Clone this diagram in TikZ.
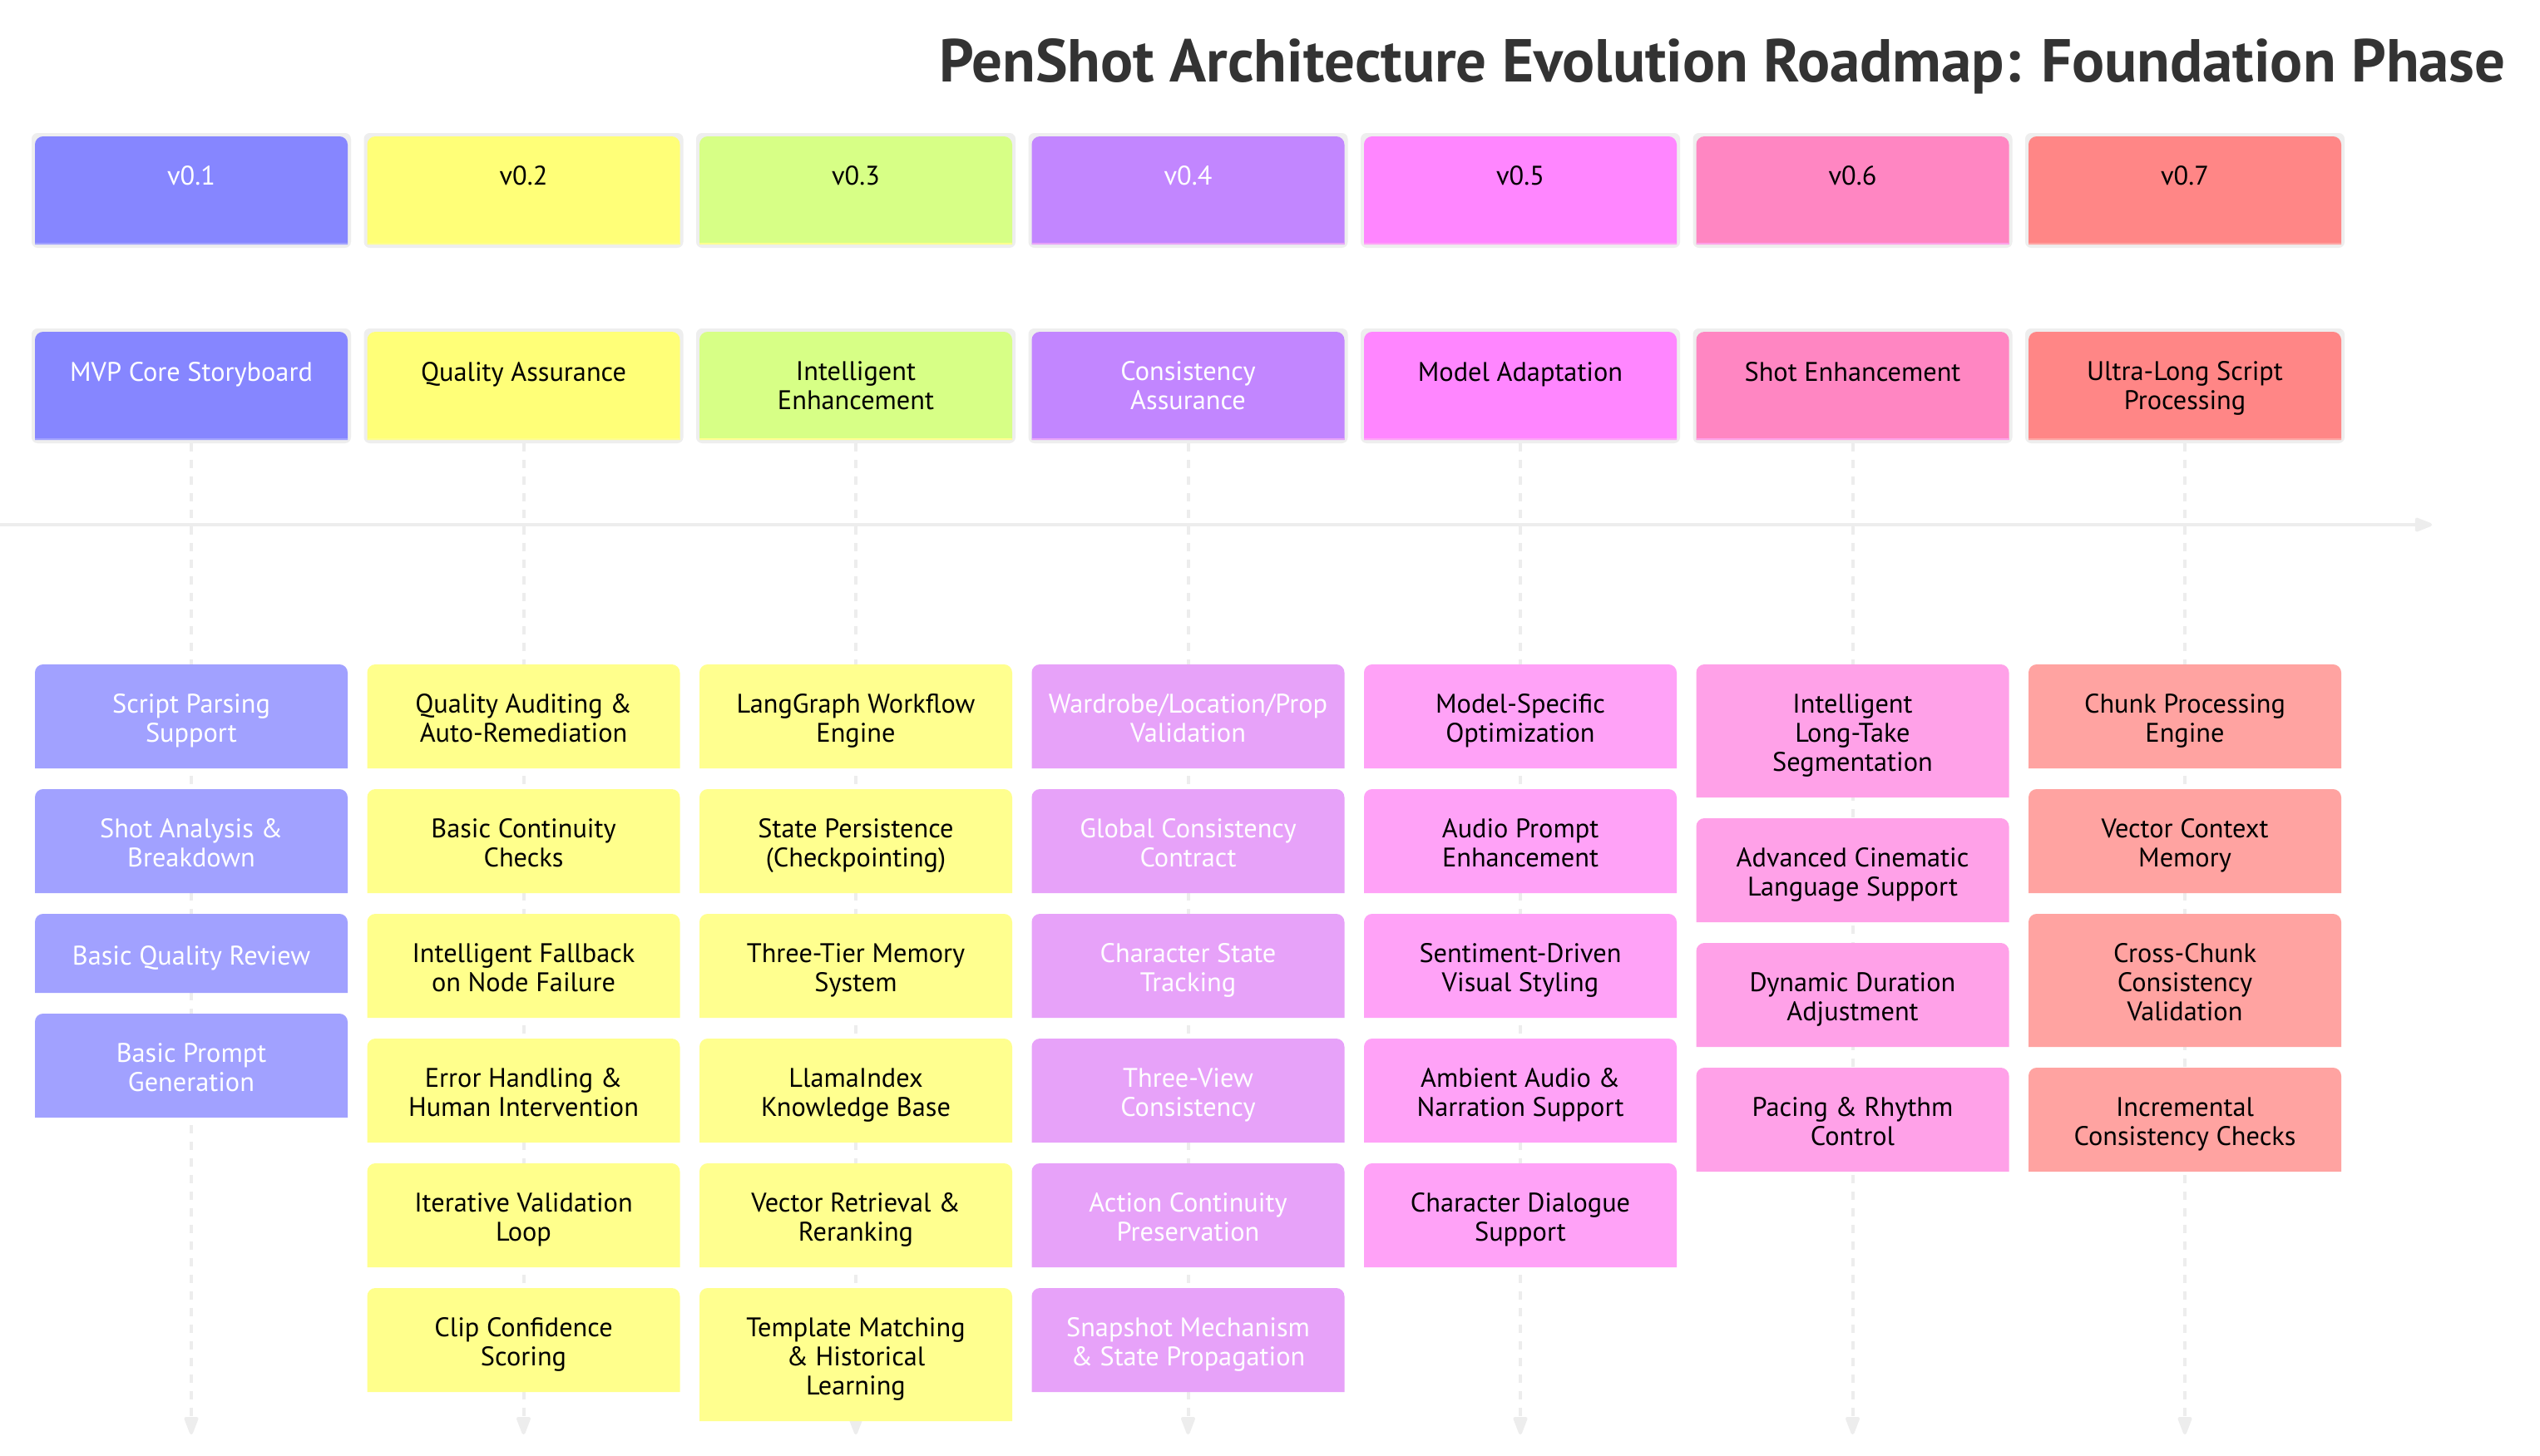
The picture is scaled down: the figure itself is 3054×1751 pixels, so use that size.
\documentclass[tikz,border=0pt]{standalone}
\usepackage{fontspec}
\setmainfont{PT Sans}
\usepackage{graphicx}
\usetikzlibrary{arrows.meta}
\definecolor{linegray}{HTML}{EDEDED}
\definecolor{halogray}{HTML}{EEEEEE}
\definecolor{titlec}{HTML}{333333}
\definecolor{cah}{HTML}{8686FF}\definecolor{cae}{HTML}{A1A1FF}
\definecolor{cbh}{HTML}{FFFF78}\definecolor{cbe}{HTML}{FFFF8C}
\definecolor{cch}{HTML}{D7FF86}\definecolor{cce}{HTML}{FFFF8F}
\definecolor{cdh}{HTML}{C286FF}\definecolor{cde}{HTML}{E7A2F9}
\definecolor{ceh}{HTML}{FF86FF}\definecolor{cee}{HTML}{FFA2F7}
\definecolor{cfh}{HTML}{FF86C2}\definecolor{cfe}{HTML}{FFA1E8}
\definecolor{cgh}{HTML}{FF8686}\definecolor{cge}{HTML}{FFA3A1}
\tikzset{
  boxtext/.style={align=center,inner sep=0pt,font=\fontsize{23}{24.9}\selectfont,
     execute at begin node=\strut, execute at end node=\strut},
  halo/.style={fill=halogray,rounded corners=5pt},
  vline/.style={draw=linegray,line width=1mm,dash pattern=on 2.5mm off 2.5mm,
     -{Triangle[length=6.25mm,width=4.4mm,round]}},
  tline/.style={draw=linegray,line width=1mm,-{Triangle[length=6mm,width=4.4mm,round]}}
}
\newcommand{\hdrbox}[8]{% name, x, y, fill, textcolor, text, text-centre offset, bottom line colour
  \fill[halo] (#2-4,#3-4) rectangle (#2+380,#3+134);
  \fill[#4] (#2,#3+130) [rounded corners=7pt] -- (#2,#3) -- (#2+376,#3) [sharp corners] -- (#2+376,#3+130) -- cycle;
  \fill[#8] (#2,#3+128) rectangle (#2+376,#3+130);
  \node[boxtext,text=#5] (#1) at (#2+188,#3+#7+5) {#6};
}
\newcommand{\evtbox}[7]{% name, x, y, h, fill, textcolor, text
  \fill[#5] (#2,#3+#4) [rounded corners=7pt] -- (#2,#3) -- (#2+376,#3) [sharp corners] -- (#2+376,#3+#4) -- cycle;
  \node[boxtext,text=#6] (#1) at (#2+188,#3+#4/2+7) {#7};
}
\begin{document}
\begin{tikzpicture}[x=0.25mm,y=-0.25mm]
\useasboundingbox[fill=white] (0,0) rectangle (3054,1751);

% title
\node[text=titlec,inner sep=0pt] (title) at (2071,80)
  {\resizebox{470.75mm}{!}{\bfseries PenShot Architecture Evolution Roadmap: Foundation Phase}};

% timeline
\coordinate (tlstart) at (0,631);
\coordinate (tlend) at (2924,631);
\draw[tline] (tlstart) -- (tlend);

% vertical dashed lines
\foreach \i/\cx in {1/230,2/629.5,3/1029,4/1428.5,5/1828,6/2227.5,7/2627}{
  \coordinate (top\i) at (\cx,533);
  \coordinate (bot\i) at (\cx,1725);
  \draw[vline] (top\i) -- (bot\i);
}

% version headers
\hdrbox{v1}{42}{164}{cah}{white}{v0.1}{46}{cae}
\hdrbox{v2}{441.5}{164}{cbh}{black}{v0.2}{46}{cbe}
\hdrbox{v3}{841}{164}{cch}{black}{v0.3}{46}{cce}
\hdrbox{v4}{1240.5}{164}{cdh}{white}{v0.4}{46}{cde}
\hdrbox{v5}{1640}{164}{ceh}{black}{v0.5}{46}{cee}
\hdrbox{v6}{2039.5}{164}{cfh}{black}{v0.6}{46}{cfe}
\hdrbox{v7}{2439}{164}{cgh}{black}{v0.7}{46}{cge}

% section headers
\hdrbox{s1}{42}{399}{cah}{white}{MVP Core Storyboard}{47}{cae}
\hdrbox{s2}{441.5}{399}{cbh}{black}{Quality Assurance}{47}{cbe}
\hdrbox{s3}{841}{399}{cch}{black}{Intelligent\\Enhancement}{64.5}{cce}
\hdrbox{s4}{1240.5}{399}{cdh}{white}{Consistency\\Assurance}{64.5}{cde}
\hdrbox{s5}{1640}{399}{ceh}{black}{Model Adaptation}{47}{cee}
\hdrbox{s6}{2039.5}{399}{cfh}{black}{Shot Enhancement}{47}{cfe}
\hdrbox{s7}{2439}{399}{cgh}{black}{Ultra-Long Script\\Processing}{64.5}{cge}

% column 1
\evtbox{a1}{42}{799}{125}{cae}{white}{Script Parsing\\Support}
\evtbox{a2}{42}{949}{125}{cae}{white}{Shot Analysis \&\\Breakdown}
\evtbox{a3}{42}{1099}{95}{cae}{white}{Basic Quality Review}
\evtbox{a4}{42}{1219}{125}{cae}{white}{Basic Prompt\\Generation}

% column 2
\evtbox{b1}{441.5}{799}{125}{cbe}{black}{Quality Auditing \&\\Auto-Remediation}
\evtbox{b2}{441.5}{949}{125}{cbe}{black}{Basic Continuity\\Checks}
\evtbox{b3}{441.5}{1099}{125}{cbe}{black}{Intelligent Fallback\\on Node Failure}
\evtbox{b4}{441.5}{1249}{125}{cbe}{black}{Error Handling \&\\Human Intervention}
\evtbox{b5}{441.5}{1399}{125}{cbe}{black}{Iterative Validation\\Loop}
\evtbox{b6}{441.5}{1549}{125}{cbe}{black}{Clip Confidence\\Scoring}

% column 3
\evtbox{c1}{841}{799}{125}{cce}{black}{LangGraph Workflow\\Engine}
\evtbox{c2}{841}{949}{125}{cce}{black}{State Persistence\\(Checkpointing)}
\evtbox{c3}{841}{1099}{125}{cce}{black}{Three-Tier Memory\\System}
\evtbox{c4}{841}{1249}{125}{cce}{black}{LlamaIndex\\Knowledge Base}
\evtbox{c5}{841}{1399}{125}{cce}{black}{Vector Retrieval \&\\Reranking}
\evtbox{c6}{841}{1549}{160}{cce}{black}{Template Matching\\\& Historical\\Learning}

% column 4
\evtbox{d1}{1240.5}{799}{125}{cde}{white}{Wardrobe/Location/Prop\\Validation}
\evtbox{d2}{1240.5}{949}{125}{cde}{white}{Global Consistency\\Contract}
\evtbox{d3}{1240.5}{1099}{125}{cde}{white}{Character State\\Tracking}
\evtbox{d4}{1240.5}{1249}{125}{cde}{white}{Three-View\\Consistency}
\evtbox{d5}{1240.5}{1399}{125}{cde}{white}{Action Continuity\\Preservation}
\evtbox{d6}{1240.5}{1549}{125}{cde}{white}{Snapshot Mechanism\\\& State Propagation}

% column 5
\evtbox{e1}{1640}{799}{125}{cee}{black}{Model-Specific\\Optimization}
\evtbox{e2}{1640}{949}{125}{cee}{black}{Audio Prompt\\Enhancement}
\evtbox{e3}{1640}{1099}{125}{cee}{black}{Sentiment-Driven\\Visual Styling}
\evtbox{e4}{1640}{1249}{125}{cee}{black}{Ambient Audio \&\\Narration Support}
\evtbox{e5}{1640}{1399}{125}{cee}{black}{Character Dialogue\\Support}

% column 6
\evtbox{f1}{2039.5}{799}{160}{cfe}{black}{Intelligent\\Long-Take\\Segmentation}
\evtbox{f2}{2039.5}{984}{125}{cfe}{black}{Advanced Cinematic\\Language Support}
\evtbox{f3}{2039.5}{1134}{125}{cfe}{black}{Dynamic Duration\\Adjustment}
\evtbox{f4}{2039.5}{1284}{125}{cfe}{black}{Pacing \& Rhythm\\Control}

% column 7
\evtbox{g1}{2439}{799}{125}{cge}{black}{Chunk Processing\\Engine}
\evtbox{g2}{2439}{949}{125}{cge}{black}{Vector Context\\Memory}
\evtbox{g3}{2439}{1099}{160}{cge}{black}{Cross-Chunk\\Consistency\\Validation}
\evtbox{g4}{2439}{1284}{125}{cge}{black}{Incremental\\Consistency Checks}
\end{tikzpicture}
\end{document}
